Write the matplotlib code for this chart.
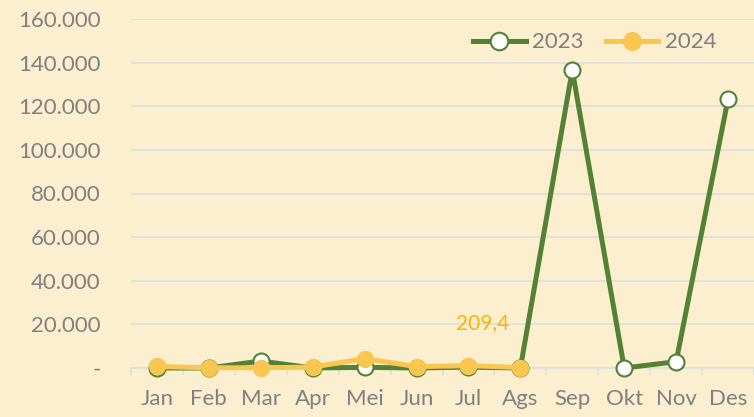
import matplotlib
matplotlib.use("Agg")
import matplotlib.pyplot as plt
import numpy as np

months = ["Jan", "Feb", "Mar", "Apr", "Mei", "Jun", "Jul", "Ags", "Sep", "Okt", "Nov", "Des"]
y2023 = [0, 0, 3200, 0, 300, 0, 400, 0, 136600, 0, 2900, 123300]
y2024 = [700, 100, 100, 400, 4300, 600, 1100, 209.4]
yticks = [0, 20000, 40000, 60000, 80000, 100000, 120000, 140000, 160000]
ytick_labels = ["-", "20.000", "40.000", "60.000", "80.000", "100.000", "120.000", "140.000", "160.000"]

bg = "#FCEFD0"
green = "#548235"
yellow = "#F9C650"
gray = "#808080"
fs = 16

plt.rcParams['font.family'] = ['Lato', 'DejaVu Sans']

fig = plt.figure(figsize=(7.54, 4.17), dpi=100, facecolor=bg)
ax = fig.add_axes([131/754, 1-368/417, 623/754, (368-19)/417], facecolor=bg)

x = np.arange(len(months))
ax.plot(x, y2023, color=green, lw=3.6, marker='o', ms=11.5, mfc='white', mec=green, mew=1.5,
        label="2023", clip_on=False, zorder=3)
x24 = np.arange(len(y2024))
ax.plot(x24, y2024, color=yellow, lw=3.6, marker='o', ms=11.5, mfc=yellow, mec=yellow,
        label="2024", clip_on=False, zorder=4)

ax.annotate("209,4", (x24[-1], y2024[-1]), xytext=(-8, 32), textcoords='offset points',
            ha='right', va='center', color="#F5B700", fontsize=15)

ax.set_xlim(-0.5, len(months) - 0.5)
ax.set_ylim(0, 160000)
ax.set_yticks(yticks)
ax.set_yticklabels(ytick_labels)
ax.set_xticks(x)
ax.set_xticklabels(months)
ax.set_xticks(np.arange(-0.5, len(months) + 0.5, 1), minor=True)

ax.grid(axis='y', color="#DDDDDD", lw=1.2, zorder=0)
ax.set_axisbelow(True)
for s in ["top", "right", "left"]:
    ax.spines[s].set_visible(False)
ax.spines["bottom"].set_color("#DDDDDD")
ax.spines["bottom"].set_linewidth(1.2)

ax.tick_params(axis='y', length=0, pad=22, labelsize=fs, labelcolor=gray)
ax.tick_params(axis='x', which='major', length=0, pad=15, labelsize=fs, labelcolor=gray)
ax.tick_params(axis='x', which='minor', length=5, width=1.2, color="#DDDDDD")

leg = ax.legend(loc='upper left', bbox_to_anchor=(329/623, 1.0), ncol=2, frameon=False,
                fontsize=fs, labelcolor=gray, handlelength=2.35, columnspacing=1.0,
                handletextpad=0.3, borderaxespad=0.2, markerscale=1.1)

fig.savefig("out.png", dpi=100, facecolor=bg)
